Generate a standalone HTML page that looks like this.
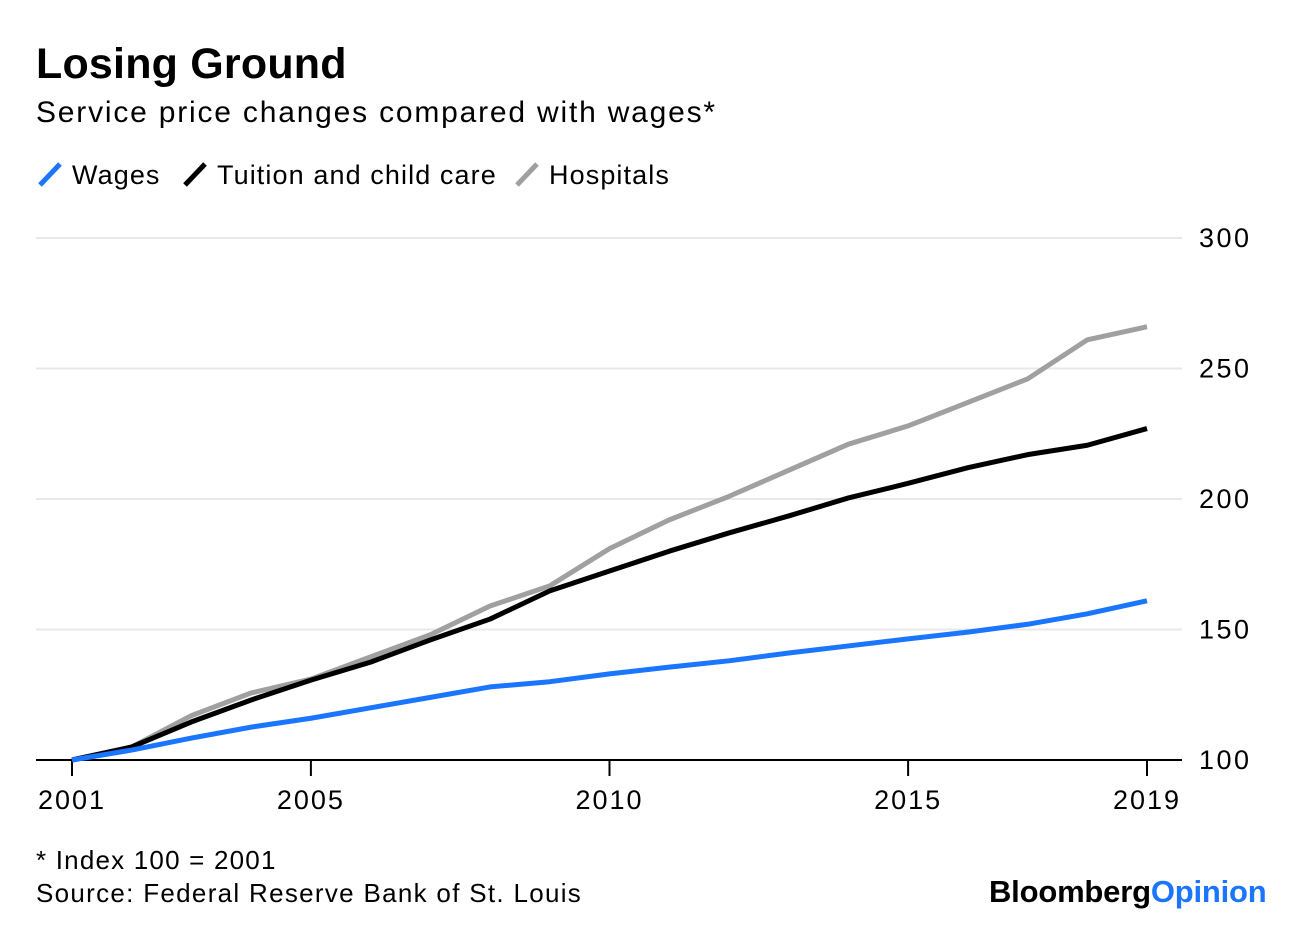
<!DOCTYPE html>
<html><head><meta charset="utf-8"><style>
body{margin:0;background:#fff;font-family:"Liberation Sans",Arial,sans-serif;}
#wrap{position:relative;width:1296px;height:926px;overflow:hidden;}
.t{position:absolute;white-space:nowrap;color:#000;}
</style></head><body>
<div id="wrap">
<div class="t" style="left:36px;top:40px;font-size:43px;font-weight:bold;letter-spacing:0.2px;">Losing Ground</div>
<div class="t" style="left:36px;top:96px;font-size:30px;letter-spacing:1.8px;">Service price changes compared with wages*</div>
<svg width="1296" height="926" style="position:absolute;left:0;top:0">
<g id="legend" font-size="27" letter-spacing="1.1" font-family="Liberation Sans,Arial,sans-serif"></g>
<g id="grid"></g><g id="lines"></g>
</svg>
<div class="t" style="left:36px;top:845px;font-size:26px;letter-spacing:1.2px;">* Index 100 = 2001</div>
<div class="t" style="left:36px;top:878px;font-size:26px;letter-spacing:1.3px;">Source: Federal Reserve Bank of St. Louis</div>
<div class="t" style="left:989px;top:874px;font-size:31px;font-weight:bold;letter-spacing:-0.2px;">Bloomberg<span style="color:#1a75ff">Opinion</span></div>
</div>
<script>
const years=[2001,2002,2003,2004,2005,2006,2007,2008,2009,2010,2011,2012,2013,2014,2015,2016,2017,2018,2019];
const wages=[100,103.8,108.4,112.6,116,120,124,128,130,133,135.6,138,141,143.7,146.4,149,152,156,161];
const tuition=[100,105,114.6,123,130.6,137.5,146,154,164.8,172.4,180,187,193.5,200.4,206,212,217,220.6,227];
const hospitals=[100,105,117,125.7,131,139.5,148,159,166.7,181,192,201,211,221,228,237,246,261,266];
const yTicks=[100,150,200,250,300];
const xTicks=[2001,2005,2010,2015,2019];
const NS="http://www.w3.org/2000/svg";
const X=v=>72+(v-2001)*(1075/18);
const Y=v=>760-(v-100)*2.61;
function mk(tag,attrs,parent,txt){const e=document.createElementNS(NS,tag);for(const k in attrs)e.setAttribute(k,attrs[k]);if(txt!==undefined)e.textContent=txt;parent.appendChild(e);return e;}
const grid=document.getElementById('grid'),lines=document.getElementById('lines'),leg=document.getElementById('legend');
yTicks.forEach(v=>{
 const l=mk('line',{x1:36,x2:1182,y1:Y(v),y2:Y(v),stroke:v===100?'#000':'#e8e8e8','stroke-width':2},grid);
 
 
 const t=mk('text',{x:1199,y:Y(v)+9,'font-size':27,'letter-spacing':2.5,'font-family':'Liberation Sans,Arial,sans-serif'},grid,v);
 
 
});
xTicks.forEach(v=>{
 const l=mk('line',{x1:X(v),x2:X(v),y1:760,y2:776,stroke:'#000','stroke-width':2},grid);
 
 
 const t=mk('text',{x:X(v),y:809,'font-size':27,'letter-spacing':2,'text-anchor':'middle','font-family':'Liberation Sans,Arial,sans-serif'},grid,v);
 
 
});
const series=[['hospitals',hospitals,'#a0a0a0'],['tuition',tuition,'#000'],['wages',wages,'#1a75ff']];
series.forEach(([n,d,c])=>{
 const p=mk('polyline',{points:d.map((v,i)=>X(years[i])+','+Y(v)).join(' '),fill:'none',stroke:c,'stroke-width':5,'stroke-linejoin':'round'},lines);
 
 
});
const legItems=[['Wages','#1a75ff',38],['Tuition and child care','#000',183],['Hospitals','#a0a0a0',515]];
legItems.forEach(([n,c,x])=>{
 const s=mk('line',{x1:x+2,y1:185,x2:x+22,y2:164,stroke:c,'stroke-width':5},leg);
 
 
 const t=mk('text',{x:x+34,y:184},leg,n);
 
 
});
</script>
</body></html>
